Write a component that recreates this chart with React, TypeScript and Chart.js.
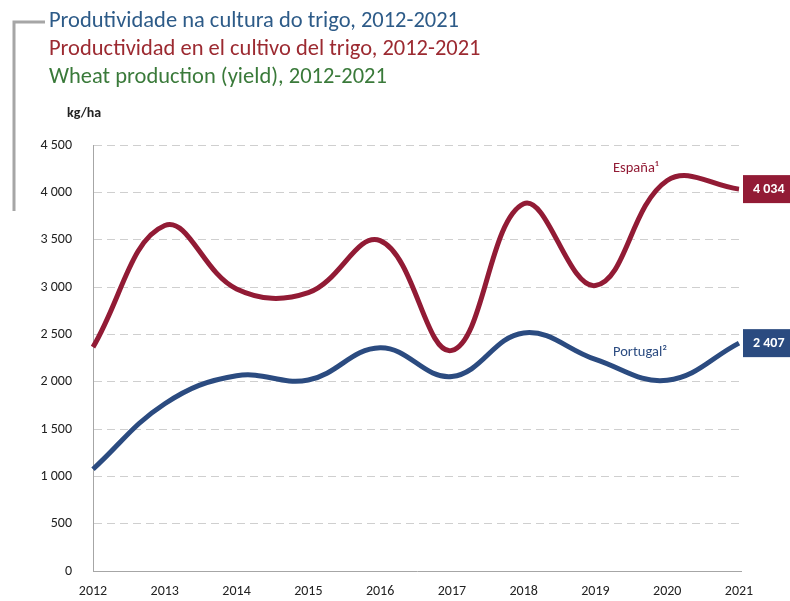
import React, { useEffect, useRef } from "react";
import { Chart, registerables } from "chart.js";

Chart.register(...registerables);

const years = ["2012", "2013", "2014", "2015", "2016", "2017", "2018", "2019", "2020", "2021"];
const spain = [2365, 3650, 2980, 2940, 3490, 2330, 3880, 3015, 4125, 4034];
const portugal = [1075, 1767, 2062, 2018, 2359, 2055, 2515, 2235, 2015, 2407];
const spainEnd = "4 034";
const portugalEnd = "2 407";
const titles = [
  "Produtividade na cultura do trigo, 2012-2021",
  "Productividad en el cultivo del trigo, 2012-2021",
  "Wheat production (yield), 2012-2021",
];
const unitLabel = "kg/ha";
const spainLabel = "España¹";
const portugalLabel = "Portugal²";

const FONT = "Carlito, Calibri, Lato, sans-serif";
const RED = "#921b35";
const BLUE = "#2b4b80";

function fmt(v: number): string {
  if (v >= 1000) {
    const th = Math.floor(v / 1000);
    const rest = String(v % 1000).padStart(3, "0");
    return th + " " + rest;
  }
  return String(v);
}

const overlay = {
  id: "overlay",
  afterDraw(chart: any) {
    const ctx = chart.ctx;
    const area = chart.chartArea;
    ctx.save();
    // bracket
    ctx.strokeStyle = "#a6a6a6";
    ctx.lineWidth = 3;
    ctx.beginPath();
    ctx.moveTo(14, 211);
    ctx.lineTo(14, 22);
    ctx.lineTo(45, 22);
    ctx.stroke();
    // titles
    const tcol = ["#2d5b88", "#9c2a31", "#3a7a3a"];
    ctx.font = `22.5px ${FONT}`;
    ctx.textBaseline = "middle";
    ctx.textAlign = "left";
    titles.forEach((t, i) => {
      ctx.fillStyle = tcol[i];
      ctx.fillText(t, 49, 21 + i * 28);
    });
    // unit
    ctx.font = `bold 14px ${FONT}`;
    ctx.fillStyle = "#222";
    ctx.fillText(unitLabel, 67, 113);
    // bottom axis line
    ctx.strokeStyle = "#a6a6a6";
    ctx.lineWidth = 1;
    ctx.beginPath();
    ctx.moveTo(area.left, area.bottom + 0.5);
    ctx.lineTo(area.right + 3, area.bottom + 0.5);
    ctx.stroke();
    // series labels
    ctx.font = `14.5px ${FONT}`;
    ctx.fillStyle = RED;
    ctx.fillText(spainLabel, 613, 168);
    ctx.fillStyle = BLUE;
    ctx.fillText(portugalLabel, 613, 352);
    // end boxes
    const ends = [
      { idx: 0, text: spainEnd, color: RED },
      { idx: 1, text: portugalEnd, color: BLUE },
    ];
    ends.forEach((e) => {
      const meta = chart.getDatasetMeta(e.idx);
      const pt = meta.data[meta.data.length - 1];
      ctx.fillStyle = e.color;
      ctx.fillRect(pt.x + 4, pt.y - 14, 60, 28);
      ctx.fillStyle = "#ffffff";
      ctx.font = `bold 14px ${FONT}`;
      ctx.fillText(e.text, pt.x + 14, pt.y);
    });
    ctx.restore();
  },
};

export default function App() {
  const ref = useRef<HTMLCanvasElement | null>(null);
  useEffect(() => {
    if (!ref.current) return;
    const chart = new Chart(ref.current, {
      type: "line",
      data: {
        labels: years,
        datasets: [
          {
            label: "España",
            data: spain,
            borderColor: RED,
            borderWidth: 5,
            tension: 0.4,
            pointRadius: 0,
            fill: false,
          },
          {
            label: "Portugal",
            data: portugal,
            borderColor: BLUE,
            borderWidth: 5,
            tension: 0.4,
            pointRadius: 0,
            fill: false,
          },
        ],
      },
      options: {
        animation: false,
        responsive: true,
        maintainAspectRatio: false,
        layout: { padding: { left: 0, right: 51, top: 145, bottom: 0 } },
        plugins: {
          legend: { display: false },
          tooltip: { enabled: false },
          title: { display: false },
        },
        scales: {
          x: {
            offset: false,
            grid: { display: false, drawTicks: false },
            border: { display: false },
            ticks: {
              color: "#222",
              font: { family: FONT, size: 14 },
              padding: 12,
              maxRotation: 0,
            },
            afterFit: (s: any) => {
              s.height = 30;
            },
          },
          y: {
            min: 0,
            max: 4500,
            grid: { color: "#cfcfcf", lineWidth: 1, drawTicks: false },
            border: { display: true, color: "#a6a6a6", width: 1, dash: [8, 5] },
            ticks: {
              stepSize: 500,
              color: "#222",
              font: { family: FONT, size: 14 },
              padding: 21,
              callback: (v: any) => fmt(Number(v)),
            },
            afterFit: (s: any) => {
              s.width = 93;
            },
          },
        },
      },
      plugins: [overlay],
    });
    return () => chart.destroy();
  }, []);
  return (
    <div style={{ position: "absolute", left: 0, top: 0, width: 790, height: 601, background: "#fff" }}>
      <canvas ref={ref} />
    </div>
  );
}
